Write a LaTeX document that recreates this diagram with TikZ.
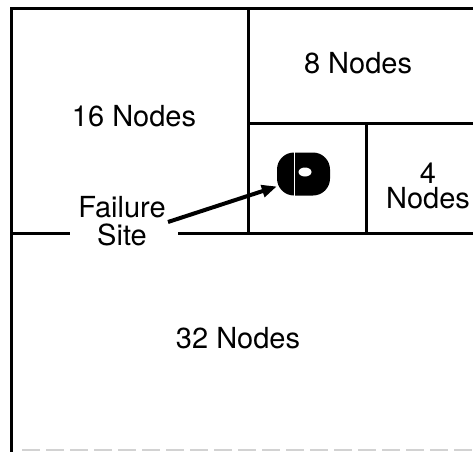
\documentclass[tikz,border=0pt]{standalone}
\usepackage{fontspec}
\setmainfont{TeX Gyre Heros}
\usetikzlibrary{arrows.meta}
\tikzset{wall/.style={line width=3pt},
  lbl/.style={inner sep=0pt,align=center,anchor=base}}

\begin{document}
\begin{tikzpicture}[x=1pt,y=-1pt,font=\fontsize{29}{25}\selectfont]
\useasboundingbox (0,0) rectangle (473,452);
% partition walls
\draw[wall] (473,9) -- (11,9) -- (11,452);
\draw[wall] (248,9) -- (248,233);
\draw[wall] (248,123) -- (473,123);
\draw[wall] (366,123) -- (366,233);
\draw[wall] (11,233) -- (70,233);
\draw[wall] (178,233) -- (473,233);
\draw[gray!35,line width=1.5pt,dash pattern=on 18pt off 6pt] (22,450) -- (473,450);
% region labels (base = last line)
\node[lbl] (eight) at (358,73) {8 Nodes};
\node[lbl] (sixteen) at (134,126) {16 Nodes};
\node[lbl] (four) at (428,208) {4\\Nodes};
\node[lbl] (thirtytwo) at (238,348) {32 Nodes};
\node[lbl,font=\fontsize{29}{28}\selectfont] (fail) at (122,245) {Failure\\Site};
% the failed node
\node[fill=black,rounded corners=17pt,minimum width=53pt,minimum height=43pt,inner sep=0pt] (site) at (303.5,174) {};
\fill[white] (305,172) ellipse (6.5pt and 4.5pt);
\draw[white,line width=0.8pt] (294,152) -- (294,196);
\coordinate (tail) at (168,222);
\draw[-{Triangle[length=15pt,width=12pt]},line width=4pt] (tail) -- (site.205);
\end{tikzpicture}
\end{document}
